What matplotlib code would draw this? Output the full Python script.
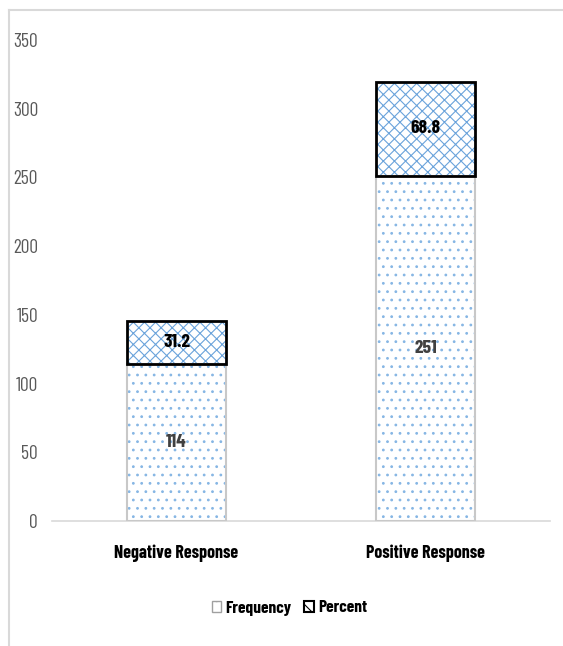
import matplotlib
matplotlib.use("Agg")
import matplotlib.pyplot as plt
from matplotlib.lines import Line2D
from matplotlib.patches import Patch

plt.rcParams['font.family'] = ['Barlow Condensed', 'Roboto Condensed', 'DejaVu Sans']
plt.rcParams['hatch.linewidth'] = 0.8

categories = ["Negative Response", "Positive Response"]
frequency = [114, 251]
percent = [31.2, 68.8]
freq_labels = ["114", "251"]
pct_labels = ["31.2", "68.8"]
yticks = [0, 50, 100, 150, 200, 250, 300, 350]

fig = plt.figure(figsize=(5.63, 6.46), dpi=100)
ax = fig.add_axes([52/563, 1-521/646, (550-52)/563, (521-40)/646])

x = list(range(len(categories)))
w = 0.4
dot_blue = "#86b6e4"
lat_blue = "#6aa3db"

# Frequency: dotted hatch, light grey border
ax.bar(x, frequency, w, color="white", edgecolor=dot_blue, hatch="..", linewidth=0, zorder=2)
ax.bar(x, frequency, w, fill=False, edgecolor="#c8c8c8", linewidth=1.5, zorder=3)
# Percent: lattice hatch, black border
ax.bar(x, percent, w, bottom=frequency, color="white", edgecolor=lat_blue, hatch="xxx", linewidth=0, zorder=2)
ax.bar(x, percent, w, bottom=frequency, fill=False, edgecolor="black", linewidth=2, zorder=3)

for i in x:
    ax.text(i, frequency[i]/2, freq_labels[i], ha="center", va="center",
            fontsize=14, fontweight="bold", color="#404040", zorder=4)
    ax.text(i, frequency[i] + percent[i]/2, pct_labels[i], ha="center", va="center",
            fontsize=14, fontweight="bold", color="black", zorder=4)

ax.set_xlim(-0.5, 1.5)
ax.set_ylim(0, 350)
ax.set_yticks(yticks)
ax.set_yticklabels([str(t) for t in yticks], fontsize=14, color="#595959")
ax.set_xticks(x)
ax.set_xticklabels(categories, fontsize=13, fontweight="bold", color="black")
ax.tick_params(axis="both", length=0)
ax.tick_params(axis="x", pad=17)
ax.tick_params(axis="y", pad=10)
for s in ["left", "right", "top"]:
    ax.spines[s].set_visible(False)
ax.spines["bottom"].set_color("#d9d9d9")
ax.spines["bottom"].set_linewidth(1.2)

handles = [Patch(facecolor="white", edgecolor="#a0a0a0", hatch=".", linewidth=1),
           Patch(facecolor="white", edgecolor="black", hatch="x", linewidth=1.5)]
fig.legend(handles, ["Frequency", "Percent"], loc="center", bbox_to_anchor=(0.514, 1-608/646),
           ncol=2, frameon=False, prop={"size": 12.5, "weight": "bold"},
           handlelength=0.55, handleheight=0.55, handletextpad=0.25, columnspacing=0.7)

# outer border (left and top)
fig.add_artist(Line2D([9/563, 9/563], [0, 1-10/646], transform=fig.transFigure, color="#d9d9d9", lw=1.5))
fig.add_artist(Line2D([9/563, 1], [1-10/646, 1-10/646], transform=fig.transFigure, color="#d9d9d9", lw=1.5))

fig.savefig("out.png", dpi=100)
